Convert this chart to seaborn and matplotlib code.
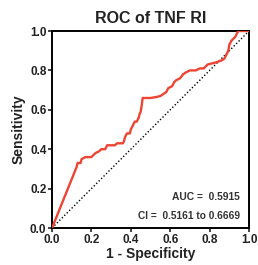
import matplotlib
matplotlib.use("Agg")
import matplotlib.pyplot as plt
import seaborn as sns
import pandas as pd

fpr = [0, 0.125, 0.13, 0.145, 0.15, 0.17, 0.2, 0.21, 0.22, 0.24, 0.25, 0.27, 0.28, 0.32, 0.33, 0.36,
       0.365, 0.37, 0.38, 0.395, 0.40, 0.41, 0.42, 0.43, 0.44, 0.445, 0.45, 0.455, 0.46, 0.50, 0.53,
       0.55, 0.565, 0.58, 0.59, 0.61, 0.62, 0.63, 0.65, 0.665, 0.68, 0.70, 0.73, 0.75, 0.77, 0.79,
       0.83, 0.86, 0.875, 0.885, 0.895, 0.90, 0.91, 0.93, 0.945, 1.0]
tpr = [0, 0.31, 0.33, 0.33, 0.35, 0.36, 0.36, 0.37, 0.38, 0.39, 0.40, 0.40, 0.42, 0.42, 0.43, 0.43,
       0.44, 0.46, 0.48, 0.48, 0.50, 0.52, 0.54, 0.54, 0.56, 0.58, 0.59, 0.62, 0.66, 0.66, 0.665,
       0.67, 0.68, 0.69, 0.71, 0.72, 0.74, 0.75, 0.76, 0.78, 0.79, 0.80, 0.80, 0.81, 0.81, 0.83,
       0.84, 0.85, 0.86, 0.88, 0.90, 0.93, 0.95, 0.97, 1.0, 1.0]
diag = [0, 1]
ticks = [0.0, 0.2, 0.4, 0.6, 0.8, 1.0]
tick_labels = ["0.0", "0.2", "0.4", "0.6", "0.8", "1.0"]
title = "ROC of TNF RI"
auc_text = "AUC =  0.5915"
ci_text = "CI =  0.5161 to 0.6669"

sns.set_style("ticks")
plt.rcParams['font.family'] = ['Liberation Sans', 'DejaVu Sans']

fig = plt.figure(figsize=(2.58, 2.65), dpi=100)
ax = fig.add_axes([0.2016, 0.1396, 0.7636, 0.7434])

df = pd.DataFrame({"fpr": fpr, "tpr": tpr})
sns.lineplot(data=df, x="fpr", y="tpr", sort=False, estimator=None, ax=ax,
             color="#EE4433", linewidth=1.7, zorder=3)
sns.lineplot(x=diag, y=diag, ax=ax, color="black", linestyle=(0, (1, 1.5)), linewidth=1.0, zorder=2)

ax.set_xlim(0, 1)
ax.set_ylim(0, 1)
ax.set_xticks(ticks)
ax.set_yticks(ticks)
ax.set_xticklabels(tick_labels, fontsize=8.5, fontweight="bold")
ax.set_yticklabels(tick_labels, fontsize=8.5, fontweight="bold")
ax.tick_params(direction="out", length=3, width=1.2, pad=1, colors="#222222")
for s in ax.spines.values():
    s.set_linewidth(1.4)
    s.set_color("black")
ax.set_xlabel("1 - Specificity", fontsize=10, fontweight="bold", labelpad=1, color="#222222")
ax.set_ylabel("Sensitivity", fontsize=10, fontweight="bold", labelpad=3, color="#222222")
ax.set_title(title, fontsize=11.5, fontweight="bold", pad=6, color="#222222")
ax.text(0.955, 0.159, auc_text, transform=ax.transAxes, ha="right", va="center",
        fontsize=7.4, fontweight="bold", color="#333333")
ax.text(0.955, 0.061, ci_text, transform=ax.transAxes, ha="right", va="center",
        fontsize=7.3, fontweight="bold", color="#333333")

fig.savefig("out.png", dpi=100)
